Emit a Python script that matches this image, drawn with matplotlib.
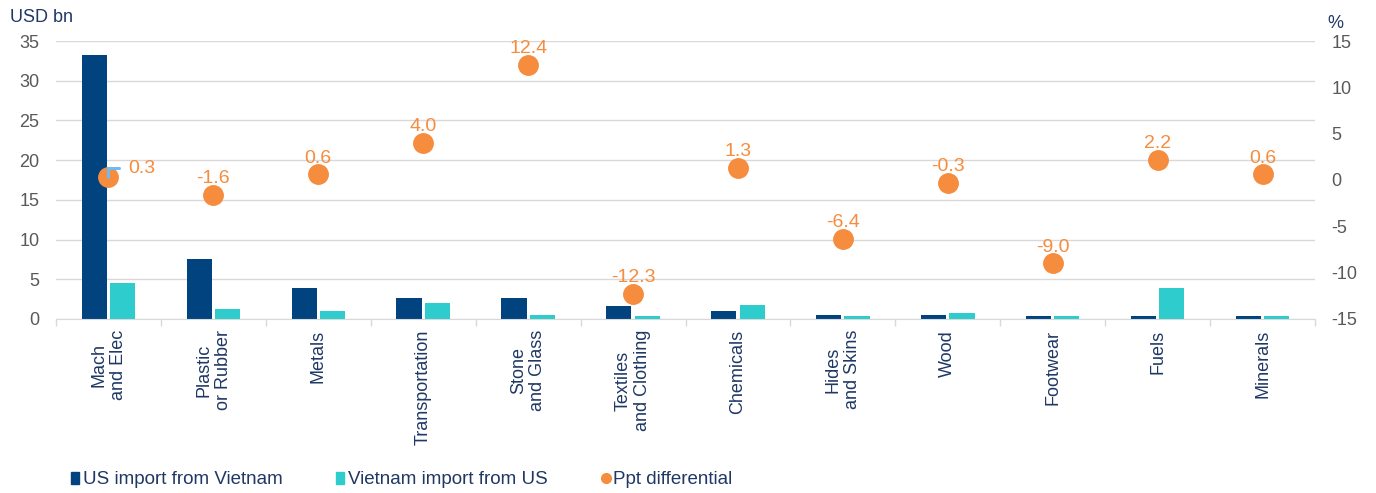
import numpy as np
import matplotlib.pyplot as plt
from matplotlib.lines import Line2D
from matplotlib.patches import Patch

categories = ["Mach\nand Elec", "Plastic\nor Rubber", "Metals", "Transportation",
              "Stone\nand Glass", "Textiles\nand Clothing", "Chemicals",
              "Hides\nand Skins", "Wood", "Footwear", "Fuels", "Minerals"]
us_from_vn = [33.2, 7.6, 3.9, 2.6, 2.6, 1.65, 1.0, 0.5, 0.5, 0.35, 0.35, 0.35]
vn_from_us = [4.5, 1.3, 1.0, 1.95, 0.5, 0.35, 1.8, 0.35, 0.8, 0.35, 3.9, 0.35]
ppt_diff = [0.3, -1.6, 0.6, 4.0, 12.4, -12.3, 1.3, -6.4, -0.3, -9.0, 2.2, 0.6]

navy = "#00437f"
cyan = "#2ecccc"
orange = "#f68c3d"
grey_txt = "#595959"
grid_c = "#d9d9d9"
label_c = "#1f3864"

plt.rcParams["font.family"] = ["Liberation Sans", "DejaVu Sans"]
plt.rcParams["axes.unicode_minus"] = False

fig = plt.figure(figsize=(13.76, 4.93), dpi=100)
ax = fig.add_axes([0.0407, 0.353, 0.915, 0.5638])
ax2 = ax.twinx()

x = np.arange(len(categories))
w = 0.24
ax.bar(x - w / 2 - 0.015, us_from_vn, w, color=navy, zorder=2)
ax.bar(x + w / 2 + 0.015, vn_from_us, w, color=cyan, zorder=2)

ax.set_xlim(-0.5, len(categories) - 0.5)
ax.set_ylim(0, 35)
ax.set_yticks(range(0, 36, 5))
ax.yaxis.grid(True, color=grid_c, lw=1)
ax.set_axisbelow(True)
ax.tick_params(axis="y", length=0, labelsize=13, labelcolor=grey_txt, pad=12)
ax.set_xticks(np.arange(-0.5, len(categories), 1))
ax.set_xticklabels([])
ax.tick_params(axis="x", length=5, color=grid_c, width=1)
for s in ["top", "left", "right"]:
    ax.spines[s].set_visible(False)
    ax2.spines[s].set_visible(False)
ax.spines["bottom"].set_color(grid_c)
ax2.spines["bottom"].set_visible(False)

for i, lab in enumerate(categories):
    ax.annotate(lab, xy=(i, 0), xycoords=("data", "axes fraction"),
                xytext=(0, -8), textcoords="offset points", rotation=90,
                ha="center", va="top", multialignment="center",
                fontsize=13, color=label_c)

ax2.set_ylim(-15, 15)
ax2.set_yticks(range(-15, 16, 5))
ax2.tick_params(axis="y", length=0, labelsize=13, labelcolor=grey_txt, pad=12)
ax2.plot(x, ppt_diff, "o", color=orange, ms=14, zorder=3)

for i, v in enumerate(ppt_diff):
    if i == 0:
        # first label sits to the right with a small leader line
        ax2.annotate(f"{v:.1f}", xy=(i, v), xytext=(14.5, 6.5), textcoords="offset points",
                     ha="left", va="center", fontsize=14, color=orange,
                     arrowprops=dict(arrowstyle="-", color="#6fbaf2", lw=2.2,
                                     connectionstyle="angle,angleA=0,angleB=90",
                                     relpos=(0, 0.5), shrinkA=5, shrinkB=0),
                     zorder=4)
    else:
        ax2.annotate(f"{v:.1f}", xy=(i, v), xytext=(0, 8.5), textcoords="offset points",
                     ha="center", va="baseline", fontsize=14, color=orange)

fig.text(0.007, 0.965, "USD bn", fontsize=13, color=label_c, va="center")
fig.text(0.965, 0.952, "%", fontsize=13, color=label_c, va="center")

handles = [Patch(color=navy, label="US import from Vietnam"),
           Patch(color=cyan, label="Vietnam import from US"),
           Line2D([], [], marker="o", ls="", color=orange, ms=7, label="Ppt differential")]
fig.legend(handles=handles, loc="center left", bbox_to_anchor=(0.039, 0.027),
           ncol=3, frameon=False, fontsize=13.5, handlelength=0.45, handleheight=0.6,
           handletextpad=0.2, columnspacing=2.85, labelcolor=label_c)

fig.savefig("out.png", dpi=100)
